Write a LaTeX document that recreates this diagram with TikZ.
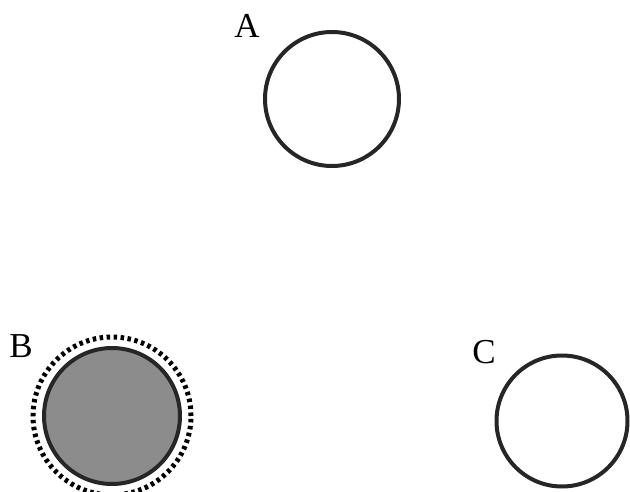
\documentclass[tikz,border=0pt]{standalone}
\usepackage{fontspec}
\setmainfont{Liberation Serif}
\begin{document}
\begin{tikzpicture}[x=1pt,y=1pt,
  ring/.style={circle,draw=black!85,line width=4pt,inner sep=0pt},
  lbl/.style={font=\fontsize{35}{35}\selectfont,inner sep=0pt}]
\useasboundingbox (0,0) rectangle (630,491);
\node[ring,minimum size=134pt] (a) at (332,392) {};
\node[lbl] (la) at (247,465) {A};
\node[circle,draw=black,line width=5pt,dash pattern=on 3.5pt off 3.5pt,minimum size=158pt,inner sep=0pt] (bo) at (112,75) {};
\node[ring,fill=black!45,minimum size=136pt] (b) at (112,75) {};
\node[lbl] (lb) at (21,145) {B};
\node[ring,minimum size=131pt] (c) at (562,70) {};
\node[lbl] (lc) at (484,139) {C};
\end{tikzpicture}
\end{document}
